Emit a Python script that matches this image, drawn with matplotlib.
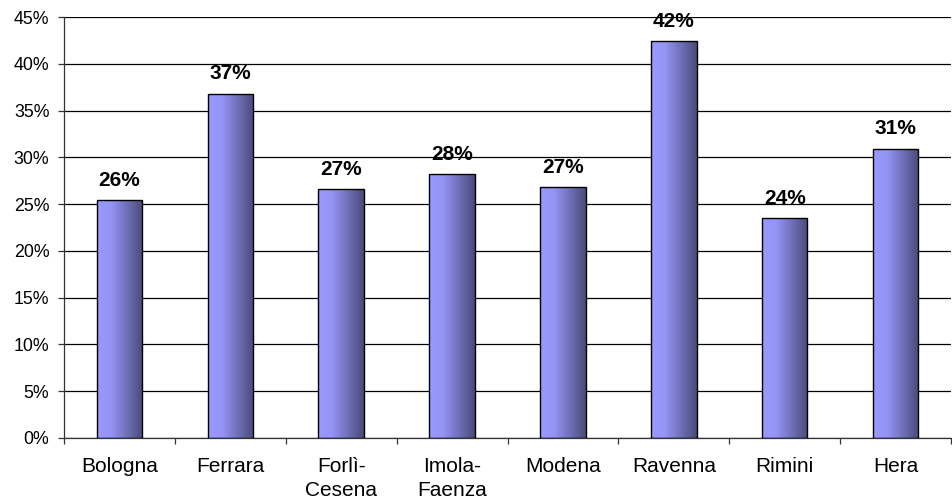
import numpy as np
import matplotlib
matplotlib.use("Agg")
import matplotlib.pyplot as plt
from matplotlib.colors import LinearSegmentedColormap

categories = ["Bologna", "Ferrara", "Forlì-\nCesena", "Imola-\nFaenza", "Modena", "Ravenna", "Rimini", "Hera"]
values = [25.4, 36.8, 26.6, 28.2, 26.8, 42.4, 23.5, 30.9]
labels = ["26%", "37%", "27%", "28%", "27%", "42%", "24%", "31%"]
yticks = [0, 5, 10, 15, 20, 25, 30, 35, 40, 45]

plt.rcParams['font.family'] = ['Liberation Sans', 'DejaVu Sans']

fig = plt.figure(figsize=(9.52, 5.04), dpi=100)
ax = fig.add_axes([64/952, 66/504, 887/952, 421/504])

x = np.arange(len(categories))
width = 0.41
bars = ax.bar(x, values, width=width, color='none', edgecolor='black', linewidth=1.0, zorder=3)

cmap = LinearSegmentedColormap.from_list('g', [(0, '#9999ff'), (0.3, '#9595f7'), (1.0, '#4a4a7a')])
grad = np.linspace(0, 1, 256).reshape(1, -1)
for b in bars:
    bx, by = b.get_x(), b.get_y()
    w, h = b.get_width(), b.get_height()
    im = ax.imshow(grad, cmap=cmap, extent=[bx, bx + w, by, by + h], aspect='auto', zorder=2, interpolation='bilinear')
    im.set_clip_path(b)

for xi, v, lab in zip(x, values, labels):
    ax.annotate(lab, (xi, v), xytext=(0, 7.5), textcoords='offset points', ha='center', va='bottom',
                fontsize=15, fontweight='bold', zorder=4)

ax.set_xlim(-0.5, len(categories) - 0.5)
ax.set_ylim(0, 45)
ax.set_yticks(yticks)
ax.set_yticklabels([f"{t}%" for t in yticks], fontsize=12.8)
ax.yaxis.grid(True, color='black', linewidth=0.9, zorder=1)
ax.set_axisbelow(True)

ax.set_xticks(x)
ax.set_xticklabels(categories, fontsize=15, linespacing=1.3)
ax.tick_params(axis='x', length=0, pad=14)
ax.set_xticks(np.arange(len(categories) + 1) - 0.5, minor=True)
ax.tick_params(axis='x', which='minor', length=4.3, width=0.9, color='#333333')
ax.tick_params(axis='y', length=4, width=0.9, color='#333333', pad=6.5)

for s in ['top', 'right']:
    ax.spines[s].set_visible(False)
ax.spines['left'].set_color('#333333')
ax.spines['bottom'].set_color('#333333')
ax.spines['left'].set_linewidth(0.9)
ax.spines['bottom'].set_linewidth(0.9)

fig.savefig("out.png", dpi=100)
